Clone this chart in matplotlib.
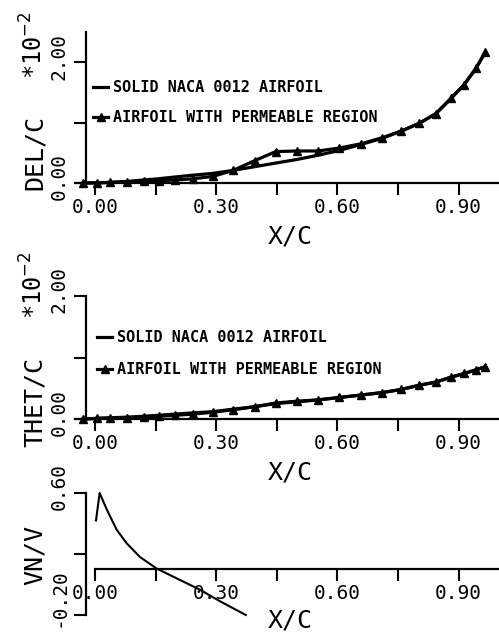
import matplotlib
matplotlib.use("Agg")
import matplotlib.pyplot as plt
from matplotlib.transforms import ScaledTranslation

plt.rcParams['font.family'] = ['DejaVu Sans Mono']
plt.rcParams['axes.unicode_minus'] = False

# x/c stations of the computed points
xc = [-0.03, 0.004, 0.037, 0.078, 0.12, 0.157, 0.198, 0.243, 0.292, 0.342,
      0.395, 0.447, 0.50, 0.552, 0.605, 0.659, 0.711, 0.758, 0.803, 0.844,
      0.881, 0.914, 0.943, 0.966]

# displacement thickness DEL/C (units of 1e-2)
del_solid = [0.0, 0.005, 0.01, 0.025, 0.05, 0.07, 0.10, 0.13, 0.16, 0.21,
             0.27, 0.33, 0.39, 0.46, 0.54, 0.64, 0.74, 0.86, 0.99, 1.15,
             1.40, 1.63, 1.90, 2.16]
del_perm = [0.0, 0.0, 0.01, 0.02, 0.03, 0.04, 0.05, 0.07, 0.11, 0.21,
            0.37, 0.52, 0.53, 0.53, 0.58, 0.65, 0.75, 0.86, 0.99, 1.15,
            1.40, 1.63, 1.90, 2.17]

# momentum thickness THET/C (units of 1e-2)
thet_solid = [0.0, 0.01, 0.02, 0.03, 0.045, 0.06, 0.08, 0.10, 0.12, 0.16,
              0.20, 0.25, 0.28, 0.31, 0.35, 0.39, 0.43, 0.48, 0.55, 0.60,
              0.68, 0.74, 0.80, 0.85]
thet_perm = [0.0, 0.01, 0.015, 0.02, 0.03, 0.045, 0.06, 0.08, 0.11, 0.15,
             0.20, 0.26, 0.29, 0.31, 0.35, 0.39, 0.43, 0.48, 0.55, 0.60,
             0.68, 0.74, 0.80, 0.85]

# normal velocity through the permeable region
vn_x = [0.002, 0.011, 0.029, 0.053, 0.078, 0.111, 0.152, 0.202, 0.26, 0.309, 0.373]
vn_v = [0.42, 0.60, 0.49, 0.36, 0.27, 0.18, 0.105, 0.04, -0.035, -0.11, -0.20]

x_ticks = [0.0, 0.15, 0.30, 0.45, 0.60, 0.75, 0.90]
x_labels = ['0.00', '', '0.30', '', '0.60', '', '0.90']

legend_names = ['SOLID NACA 0012 AIRFOIL', 'AIRFOIL WITH PERMEABLE REGION']

W, H = 499, 632
fig = plt.figure(figsize=(W / 100, H / 100), dpi=100)


def box(top, bottom):
    return [75 / W, 1 - bottom / H, 424 / W, (bottom - top) / H]


def fpos(x, y):
    return x / W, 1 - y / H


def style(ax, ylim, yticks, ylabels, shifts):
    ax.set_xlim(-0.05, 1.0)
    ax.set_ylim(*ylim)
    ax.spines['top'].set_visible(False)
    ax.spines['right'].set_visible(False)
    ax.spines['left'].set_position(('data', -0.023))
    for s in ('left', 'bottom'):
        ax.spines[s].set_linewidth(1.6)
    ax.set_xticks(x_ticks, x_labels)
    ax.set_yticks(yticks, ylabels)
    ax.tick_params(axis='x', direction='out', length=8.5, width=1.5, pad=2, labelsize=14)
    ax.tick_params(axis='y', direction='out', length=9, width=1.5, pad=3.5, labelsize=14,
                   labelrotation=90)
    # plotter put the y labels a little above their ticks
    for lab, dy in zip(ax.get_yticklabels(), shifts):
        lab.set_va('center')
        lab.set_transform(lab.get_transform() +
                          ScaledTranslation(0, dy / 100, fig.dpi_scale_trans))


leg_font = {'family': 'DejaVu Sans Mono', 'weight': 'bold', 'size': 10.9}

# ---- DEL/C
ax1 = fig.add_axes(box(32, 183))
style(ax1, (0, 2.5), [0, 1, 2], ['0.00', '', '2.00'], [6, 0, 6])
ax1.plot(xc, del_solid, color='black', lw=2.3, clip_on=False, label=legend_names[0])
ax1.plot(xc, del_perm, color='black', lw=2.3, marker='^', ms=5.5, clip_on=False,
         label=legend_names[1])
ax1.legend(loc='upper left', bbox_to_anchor=fpos(93, 80), bbox_transform=fig.transFigure,
           frameon=False, prop=leg_font, borderpad=0, borderaxespad=0, handlelength=1.0,
           handletextpad=0.35, labelspacing=1.0, numpoints=1)
fig.text(*fpos(35, 153), 'DEL/C', rotation=90, ha='center', va='center', fontsize=18)
fig.text(*fpos(34, 45), r'*10$^{-2}$', rotation=90, ha='center', va='center', fontsize=17)
fig.text(*fpos(290, 237), 'X/C', ha='center', va='center', fontsize=18)

# ---- THET/C
ax2 = fig.add_axes(box(296, 419))
style(ax2, (0, 2.0), [0, 1, 2], ['0.00', '', '2.00'], [6, 0, 6])
ax2.plot(xc, thet_solid, color='black', lw=2.3, clip_on=False, label=legend_names[0])
ax2.plot(xc, thet_perm, color='black', lw=2.3, marker='^', ms=5.5, clip_on=False,
         label=legend_names[1])
ax2.legend(loc='upper left', bbox_to_anchor=fpos(97, 330), bbox_transform=fig.transFigure,
           frameon=False, prop=leg_font, borderpad=0, borderaxespad=0, handlelength=1.0,
           handletextpad=0.35, labelspacing=1.13, numpoints=1)
fig.text(*fpos(35, 402), 'THET/C', rotation=90, ha='center', va='center', fontsize=18)
fig.text(*fpos(34, 285), r'*10$^{-2}$', rotation=90, ha='center', va='center', fontsize=17)
fig.text(*fpos(290, 472), 'X/C', ha='center', va='center', fontsize=18)

# ---- VN/V
ax3 = fig.add_axes(box(493, 615))
style(ax3, (-0.2, 0.6), [-0.2, 0.2, 0.6], ['-0.20', '', '0.60'], [17, 0, 7])
ax3.spines['bottom'].set_position(('data', 0.1))
ax3.spines['bottom'].set_bounds(0, 1.0)
ax3.plot(vn_x, vn_v, color='black', lw=1.5, clip_on=False)
fig.text(*fpos(35, 555), 'VN/V', rotation=90, ha='center', va='center', fontsize=18)
fig.text(*fpos(290, 621), 'X/C', ha='center', va='center', fontsize=18)

fig.savefig('out.png', dpi=100)
